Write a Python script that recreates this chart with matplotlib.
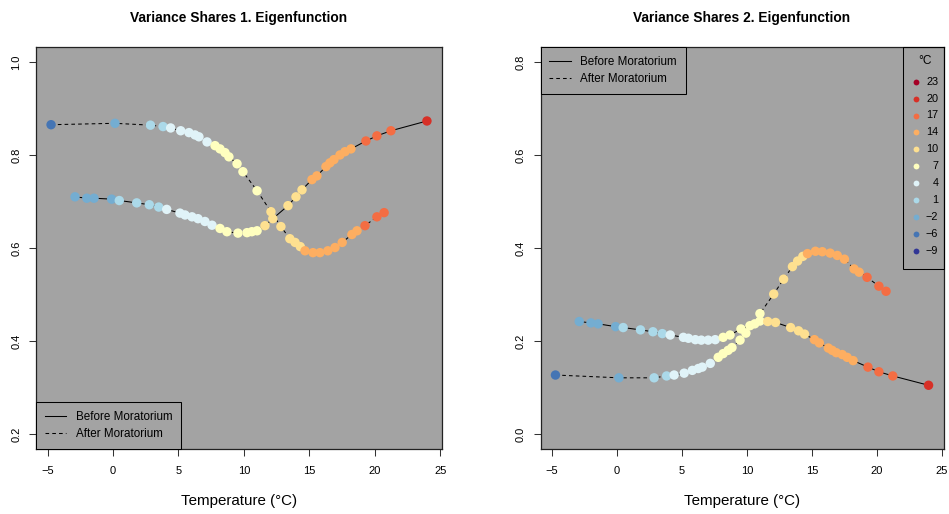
import numpy as np
import matplotlib
matplotlib.use('Agg')
import matplotlib.pyplot as plt
from matplotlib.lines import Line2D
from matplotlib.patches import Rectangle

plt.rcParams['font.family'] = ['Liberation Sans', 'DejaVu Sans']

# temperature (°C) of each point
temp_before = [-2.9, -2.0, -1.45, -0.1, 0.48, 1.81, 2.77, 3.49, 4.10, 5.11, 5.50, 6.03, 6.49, 7.02,
               7.56, 8.17, 8.70, 9.54, 10.23, 10.6, 11.0, 11.6, 12.2, 13.36, 13.97, 14.43, 15.19,
               15.57, 16.26, 16.56, 16.87, 17.33, 17.71, 18.17, 19.31, 20.15, 21.22, 23.97]
temp_after = [-4.73, 0.15, 2.86, 3.82, 4.40, 5.17, 5.80, 6.26, 6.56, 7.18, 7.79, 8.17, 8.55, 8.85,
              9.47, 9.92, 11.0, 12.06, 12.82, 13.5, 13.9, 14.3, 14.66, 15.27, 15.8, 16.4, 16.95,
              17.5, 18.24, 18.63, 19.24, 20.15, 20.7]

# variance shares, 1. eigenfunction
share1_before = [0.710, 0.707, 0.707, 0.705, 0.702, 0.697, 0.693, 0.688, 0.683, 0.675, 0.671, 0.667,
                 0.663, 0.657, 0.649, 0.642, 0.635, 0.632, 0.633, 0.635, 0.637, 0.648, 0.663, 0.691,
                 0.710, 0.725, 0.747, 0.755, 0.775, 0.783, 0.790, 0.800, 0.807, 0.813, 0.830, 0.841,
                 0.852, 0.873]
share1_after = [0.865, 0.868, 0.864, 0.861, 0.858, 0.852, 0.848, 0.843, 0.839, 0.828, 0.820, 0.813,
                0.805, 0.796, 0.781, 0.764, 0.723, 0.678, 0.646, 0.620, 0.612, 0.603, 0.594, 0.590,
                0.590, 0.594, 0.601, 0.612, 0.629, 0.637, 0.648, 0.667, 0.676]

# variance shares, 2. eigenfunction
share2_before = [0.242, 0.239, 0.237, 0.231, 0.229, 0.224, 0.220, 0.216, 0.213, 0.208, 0.206, 0.203,
                 0.202, 0.202, 0.203, 0.208, 0.213, 0.226, 0.233, 0.237, 0.243, 0.242, 0.240, 0.229,
                 0.222, 0.215, 0.203, 0.196, 0.185, 0.180, 0.175, 0.171, 0.165, 0.158, 0.144, 0.134,
                 0.125, 0.105]
share2_after = [0.127, 0.121, 0.121, 0.125, 0.127, 0.131, 0.137, 0.141, 0.144, 0.152, 0.165, 0.173,
                0.180, 0.186, 0.202, 0.217, 0.259, 0.301, 0.333, 0.360, 0.372, 0.382, 0.388, 0.393,
                0.392, 0.389, 0.384, 0.376, 0.355, 0.348, 0.337, 0.318, 0.307]

# colour key (RdYlBu, 11 classes)
key_labels = ['23', '20', '17', '14', '10', '7', '4', '1', '\u22122', '\u22126', '\u22129']
key_colors = ['#A50026', '#D73027', '#F46D43', '#FDAE61', '#FEE090', '#FFFFBF',
              '#E0F3F8', '#ABD9E9', '#74ADD1', '#4575B4', '#313695']
class_edges = [-7, -3.5, 0.3, 4.0, 7.6, 11.3, 14.6, 19.0, 22.5, 24.5]

titles = ['Variance Shares 1. Eigenfunction', 'Variance Shares 2. Eigenfunction']

BG = '#A3A3A3'
W, H = 949, 514


def PointColors(temps):
    cols = key_colors[::-1]
    return [cols[i] for i in np.digitize(temps, class_edges)]


def StyleAxes(ax, yticks, ylim):
    ax.set_facecolor(BG)
    ax.set_xlim(-5.88, 25.12)
    ax.set_ylim(ylim)
    ax.set_xticks([-5, 0, 5, 10, 15, 20, 25])
    ax.set_yticks(yticks)
    ax.set_yticklabels(['%.1f' % v for v in yticks], rotation=90, va='center')
    ax.set_xticklabels(['\u22125', '0', '5', '10', '15', '20', '25'])
    ax.tick_params(axis='both', length=5, width=0.75, labelsize=8, color='#333333')
    ax.tick_params(axis='x', pad=7.5)
    ax.tick_params(axis='y', pad=5.5)
    for sp in ax.spines.values():
        sp.set_linewidth(0.9)
        sp.set_color('#222222')
    ax.set_xlabel('Temperature (\u00b0C)', fontsize=10.9, labelpad=13)


def DrawPanel(ax, before, after, title):
    ax.plot(temp_before, before, color='black', lw=0.75, zorder=2)
    ax.plot(temp_after, after, color='black', lw=0.75, dashes=(3.5, 3), zorder=2)
    ax.scatter(temp_before, before, s=46, c=PointColors(temp_before), edgecolors='none', zorder=3)
    ax.scatter(temp_after, after, s=46, c=PointColors(temp_after), edgecolors='none', zorder=3)
    ax.set_title(title, fontsize=9.9, fontweight='bold', pad=18)


def LineLegend(ax, loc):
    handles = [Line2D([], [], color='black', lw=0.75),
               Line2D([], [], color='black', lw=0.75, dashes=(3.5, 3))]
    leg = ax.legend(handles, ['Before Moratorium', 'After Moratorium'], loc=loc,
                    fontsize=8.4, frameon=True, fancybox=False, borderaxespad=0,
                    facecolor=BG, edgecolor='black', framealpha=1, handlelength=1.85,
                    handletextpad=0.8, labelspacing=0.45, borderpad=0.75)
    leg.get_frame().set_linewidth(0.75)
    return leg


def TempKey(ax, pos):
    # pixel box of the axes, to place the key in pixels
    x0, y0, x1, y1 = pos

    def fx(px):
        return (px - x0) / (x1 - x0)

    def fy(py):
        return (y1 - py) / (y1 - y0)

    ax.add_patch(Rectangle((fx(903.3), fy(269.3)), 1 - fx(903.3), 1 - fy(269.3),
                           transform=ax.transAxes, facecolor='none', edgecolor='black',
                           lw=0.75, zorder=5, clip_on=False))
    ax.text(fx(925), fy(60.7), '\u00b0C', transform=ax.transAxes, ha='center', va='center',
            fontsize=8.6, zorder=6)
    for i, (lab, col) in enumerate(zip(key_labels, key_colors)):
        py = 81.7 + 16.9 * i
        ax.plot([fx(916)], [fy(py)], 'o', ms=4.2, color=col, mec='none',
                transform=ax.transAxes, zorder=6, clip_on=False)
        ax.text(fx(938.3), fy(py), lab, transform=ax.transAxes, ha='right', va='center',
                fontsize=7.8, zorder=6)


fig = plt.figure(figsize=(W / 100, H / 100), dpi=100)

pos_left = (36, 47, 442, 449)
pos_right = (540.5, 47, 943.5, 449)


def AxRect(pos):
    x0, y0, x1, y1 = pos
    return [x0 / W, 1 - y1 / H, (x1 - x0) / W, (y1 - y0) / H]


ax1 = fig.add_axes(AxRect(pos_left))
ax2 = fig.add_axes(AxRect(pos_right))

StyleAxes(ax1, [0.2, 0.4, 0.6, 0.8, 1.0], (0.168, 1.032))
StyleAxes(ax2, [0.0, 0.2, 0.4, 0.6, 0.8], (-0.032, 0.832))

DrawPanel(ax1, share1_before, share1_after, titles[0])
DrawPanel(ax2, share2_before, share2_after, titles[1])

LineLegend(ax1, 'lower left')
LineLegend(ax2, 'upper left')
TempKey(ax2, pos_right)

fig.savefig('out.png', dpi=100, facecolor='white')
